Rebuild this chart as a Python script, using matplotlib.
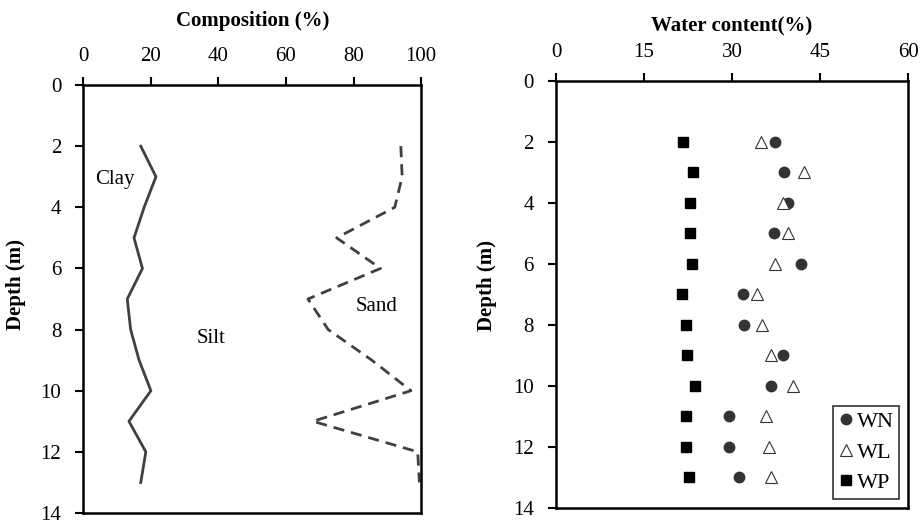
import matplotlib
matplotlib.use("Agg")
import matplotlib.pyplot as plt

plt.rcParams['font.family'] = ['Liberation Serif', 'DejaVu Serif']

# Grain size composition vs depth
depth_comp = [2, 3, 4, 5, 6, 7, 8, 9, 10, 11, 12, 13]
clay = [17, 21.5, 18, 15, 17.5, 13, 14, 16.5, 20, 13.5, 18.5, 17]
clay_silt = [94, 94.4, 92.2, 75, 88, 66.5, 72.5, 85.4, 97, 68, 99, 99.5]

# Water content vs depth
depth_wc = [2, 3, 4, 5, 6, 7, 8, 9, 10, 11, 12, 13]
wn = [37.3, 38.9, 39.5, 37.1, 41.8, 31.8, 32.0, 38.7, 36.6, 29.5, 29.5, 31.2]
wl = [34.9, 42.3, 38.7, 39.5, 37.3, 34.2, 35.1, 36.6, 40.3, 35.8, 36.2, 36.7]
wp = [21.7, 23.3, 22.9, 22.9, 23.1, 21.5, 22.1, 22.3, 23.7, 22.1, 22.1, 22.7]

fig = plt.figure(figsize=(9.22, 5.26), dpi=100)
ax1 = fig.add_axes([0.0904, 0.0247, 0.3663, 0.8137])
ax2 = fig.add_axes([0.603, 0.0348, 0.3821, 0.8112])

fs = 15

def style(ax, xmax, xstep, xlabel, xpad, ylab_xy):
    ax.set_ylim(14, 0)
    ax.set_xlim(0, xmax)
    ax.set_xticks(range(0, xmax + 1, xstep))
    ax.set_yticks(range(0, 15, 2))
    ax.xaxis.tick_top()
    ax.xaxis.set_label_position('top')
    ax.set_xlabel(xlabel, fontsize=fs, fontweight='bold', labelpad=xpad)
    ax.set_ylabel("Depth (m)", fontsize=fs, fontweight='bold')
    ax.yaxis.set_label_coords(*ylab_xy)
    ax.tick_params(axis='both', labelsize=fs, width=1.5, length=6, direction='out')
    ax.tick_params(axis='y', pad=10)
    ax.tick_params(axis='x', pad=8)
    for s in ax.spines.values():
        s.set_linewidth(1.8)
        s.set_color('black')

# Left panel
ax1.plot(clay, depth_comp, color='#404040', lw=2)
ax1.plot(clay_silt, depth_comp, color='#404040', lw=2, linestyle=(0, (4, 2.5)))
ax1.text(9.4, 3.1, "Clay", fontsize=fs, ha='center', va='center')
ax1.text(37.8, 8.28, "Silt", fontsize=fs, ha='center', va='center')
ax1.text(86.8, 7.25, "Sand", fontsize=fs, ha='center', va='center')
style(ax1, 100, 20, "Composition (%)", 15, (-0.17, 0.533))

# Right panel
ax2.plot(wn, depth_wc, 'o', color='#333333', ms=7.5, label='WN', linestyle='none')
ax2.plot(wl, depth_wc, '^', mfc='white', mec='#333333', mew=0.8, ms=8, label='WL', linestyle='none')
ax2.plot(wp, depth_wc, 's', color='black', ms=7.5, label='WP', linestyle='none')
style(ax2, 60, 15, "Water content(%)", 8, (-0.1675, 0.52))
leg = ax2.legend(loc='lower right', fontsize=fs + 1, frameon=True, fancybox=False,
                 edgecolor='black', handlelength=0.6, handletextpad=0.2,
                 borderpad=0.25, labelspacing=0.45, borderaxespad=0.4)
leg.get_frame().set_linewidth(1.2)

fig.savefig("out.png", dpi=100)
